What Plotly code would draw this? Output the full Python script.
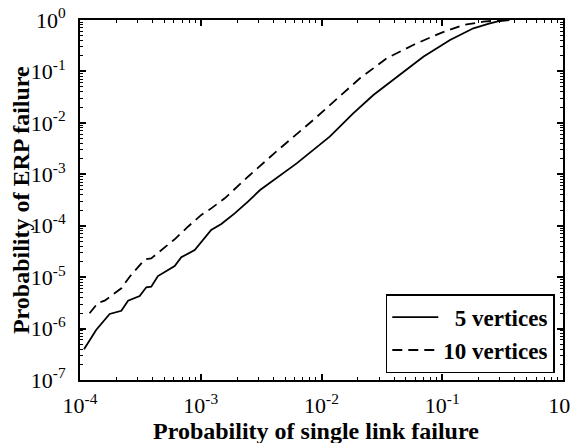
import plotly.graph_objects as go

# 5 vertices (solid)
x_5 = [1.08e-4, 1.36e-4, 1.76e-4, 2.20e-4, 2.50e-4, 3.12e-4, 3.54e-4, 3.89e-4, 4.42e-4,
       6.08e-4, 6.90e-4, 8.91e-4, 1.22e-3, 1.48e-3, 1.91e-3, 2.46e-3, 3.10e-3, 6.23e-3,
       1.17e-2, 1.83e-2, 2.69e-2, 4.47e-2, 6.97e-2, 0.116, 0.181, 0.248, 0.30, 0.36]
y_5 = [3.95e-7, 9.4e-7, 1.92e-6, 2.22e-6, 3.48e-6, 4.30e-6, 6.34e-6, 6.5e-6, 1.05e-5,
       1.65e-5, 2.43e-5, 3.37e-5, 8.26e-5, 1.08e-4, 1.74e-4, 2.93e-4, 4.95e-4, 1.63e-3,
       5.38e-3, 1.53e-2, 3.48e-2, 8.5e-2, 0.193, 0.408, 0.69, 0.86, 0.957, 0.99]

# 10 vertices (dashed)
x_10 = [1.20e-4, 1.41e-4, 1.60e-4, 2.20e-4, 2.58e-4, 3.44e-4, 3.89e-4, 5.18e-4, 6.08e-4,
        7.83e-4, 1.01e-3, 1.19e-3, 1.58e-3, 2.46e-3, 4.53e-3, 8.55e-3, 1.42e-2, 2.08e-2,
        3.47e-2, 5.75e-2, 9.57e-2, 0.149, 0.219, 0.30]
y_10 = [1.98e-6, 3.18e-6, 3.48e-6, 6.07e-6, 1.02e-5, 2.22e-5, 2.32e-5, 3.91e-5, 5.44e-5,
        9.57e-5, 1.62e-4, 2.08e-4, 3.41e-4, 8.97e-4, 3.20e-3, 1.14e-2, 3.23e-2, 7.35e-2,
        0.18, 0.327, 0.551, 0.80, 0.927, 0.99]

names = ["<b>\u00a0\u00a05 vertices</b>", "<b>10 vertices</b>"]

x_exponents = [-4, -3, -2, -1, 0]
y_exponents = [-7, -6, -5, -4, -3, -2, -1, 0]

x_title = "Probability of single link failure"
y_title = "Probability of ERP failure"

FONT = "Liberation Serif"


def ticks_for(exps):
    vals = [10.0 ** e for e in exps]
    text = ["10<sup>%d</sup>" % e for e in exps]
    minor = [m * 10.0 ** e for e in exps[:-1] for m in range(2, 10)]
    return vals, text, minor


fig = go.Figure()
fig.add_trace(go.Scatter(x=x_5, y=y_5, mode="lines", name=names[0],
                         line=dict(color="black", width=1.8, dash="solid")))
fig.add_trace(go.Scatter(x=x_10, y=y_10, mode="lines", name=names[1],
                         line=dict(color="black", width=1.8, dash="10px,6px")))

axis_common = dict(
    type="log",
    showline=True, linecolor="black", linewidth=2, mirror="ticks",
    ticks="inside", ticklen=6, tickwidth=1.5, tickcolor="black",
    showgrid=False, zeroline=False, ticklabeloverflow="allow",
    tickfont=dict(family=FONT, size=22, color="black"),
)

xv, xt, xm = ticks_for(x_exponents)
yv, yt, ym = ticks_for(y_exponents)

fig.update_xaxes(range=[-4, 0], tickmode="array", tickvals=xv, ticktext=xt,
                 ticklabelstandoff=5,
                 minor=dict(tickmode="array", tickvals=xm, ticks="inside", ticklen=3,
                            tickwidth=1, tickcolor="black", showgrid=False),
                 **axis_common)
fig.update_yaxes(range=[-7, 0], tickmode="array", tickvals=yv, ticktext=yt,
                 ticklabelstandoff=8,
                 minor=dict(tickmode="array", tickvals=ym, ticks="inside", ticklen=3,
                            tickwidth=1, tickcolor="black", showgrid=False),
                 **axis_common)

fig.add_annotation(text="<b>%s</b>" % x_title, xref="paper", yref="paper",
                   x=0.489, y=-0.142, xanchor="center", yanchor="middle", showarrow=False,
                   font=dict(family=FONT, size=24, color="black"))
fig.add_annotation(text="<b>%s</b>" % y_title, xref="paper", yref="paper",
                   x=-0.122, y=0.5, xanchor="center", yanchor="middle", showarrow=False,
                   textangle=-90, font=dict(family=FONT, size=24, color="black"))

# page body has an 8px margin, so the figure is 8px smaller than the window
fig.update_layout(
    width=570, height=435,
    margin=dict(l=72, r=15, t=12, b=63, autoexpand=False),
    plot_bgcolor="white", paper_bgcolor="white",
    legend=dict(x=0.983, y=0.019, xanchor="right", yanchor="bottom",
                bordercolor="black", borderwidth=1.5, bgcolor="white",
                font=dict(family=FONT, size=23, color="black"),
                tracegroupgap=0, itemwidth=46),
    showlegend=True,
)

fig.write_html("out.html")
